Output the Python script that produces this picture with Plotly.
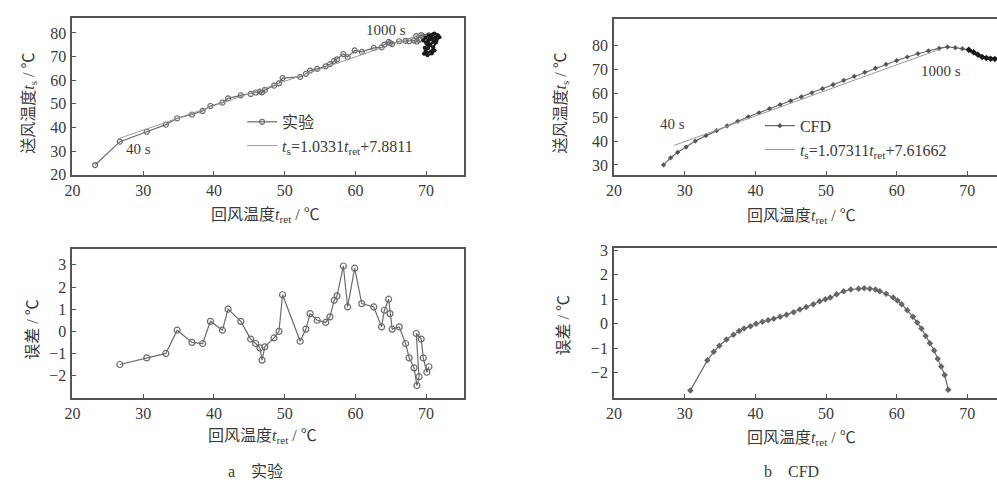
import plotly.graph_objects as go

# ---------------- data ----------------
# (a) experiment: return-air temp vs supply-air temp
exp_x = [23.2, 26.7, 30.5, 33.2, 34.8, 36.9, 38.4, 39.5, 41.2, 42.0, 43.8, 45.2, 45.9, 46.5, 46.8,
         47.2, 48.5, 49.2, 49.7, 52.2, 53.0, 53.6, 54.6, 55.8, 56.4, 57.0, 57.4, 58.3, 58.9, 59.9,
         60.9, 62.6, 63.7, 64.1, 64.7, 64.9, 65.2, 66.2, 67.1, 67.6, 68.3, 68.7, 69.0, 68.6, 69.3,
         69.6, 70.1, 70.4]
exp_y = [24.1, 34.0, 38.2, 41.2, 43.9, 45.5, 47.0, 49.1, 50.5, 52.3, 53.6, 54.2, 54.8, 55.2, 54.9,
         55.9, 57.7, 58.7, 60.9, 61.4, 62.7, 64.1, 64.8, 65.9, 66.8, 68.2, 68.8, 71.1, 69.8, 72.6,
         72.0, 73.7, 73.9, 75.1, 76.2, 75.7, 75.3, 76.5, 76.7, 76.5, 76.8, 76.4, 77.1, 78.7, 79.1,
         78.6, 78.5, 79.0]
# dense cluster after ~1000 s
blob_x = [70.4, 71.0, 71.6, 71.9, 71.5, 71.0, 70.6, 70.3, 69.9, 69.7, 70.2, 70.8, 71.2, 71.0, 70.5,
          70.0, 69.6, 69.9, 70.6, 71.3, 71.7, 71.2, 70.5, 70.2, 70.9, 71.4, 70.7, 70.1, 69.8, 70.4]
blob_y = [79.0, 79.6, 79.2, 78.2, 77.0, 76.2, 75.0, 73.6, 72.4, 71.2, 70.6, 71.3, 72.6, 74.0, 74.8,
          75.8, 76.8, 78.0, 78.4, 78.0, 78.8, 79.8, 78.2, 76.5, 77.3, 76.0, 72.2, 71.8, 73.8, 75.6]
exp_fit_x = [26.5, 69.5]
exp_fit_y = [35.26, 79.68]

exp_err_x = exp_x[1:]
exp_err = [-1.5, -1.2, -1.0, 0.05, -0.5, -0.55, 0.45, 0.05, 1.0, 0.45, -0.35, -0.55, -0.75, -1.3,
           -0.7, -0.3, 0.0, 1.65, -0.45, 0.1, 0.8, 0.5, 0.4, 0.65, 1.4, 1.6, 2.95, 1.1, 2.85,
           1.25, 1.1, 0.2, 0.95, 1.45, 0.8, 0.1, 0.2, -0.55, -1.2, -1.65, -2.45, -2.05, -0.1, -0.35,
           -1.2, -1.85, -1.6]

# (b) CFD
cfd_x = [27.0, 28.0, 29.0, 30.2, 31.5, 33.0, 34.5, 36.0, 37.5, 39.0, 40.5, 42.0, 43.5, 45.0, 46.5,
         48.0, 49.5, 51.0, 52.5, 54.0, 55.5, 57.0, 58.5, 60.0, 61.5, 63.0, 64.5, 66.0, 67.2, 68.3,
         69.3, 70.2]
cfd_y = [30.0, 33.0, 35.3, 37.5, 40.0, 42.3, 44.4, 46.4, 48.3, 50.2, 51.9, 53.6, 55.3, 56.9, 58.6,
         60.3, 62.0, 63.7, 65.5, 67.2, 68.9, 70.6, 72.2, 73.8, 75.3, 76.7, 77.9, 78.9, 79.5, 79.2,
         78.8, 78.3]
cfd_tail_x = [70.2, 70.9, 71.5, 72.1, 72.7, 73.3, 73.9]
cfd_tail_y = [78.3, 77.3, 76.2, 75.3, 74.9, 74.6, 74.5]
cfd_fit_x = [28.5, 66.0]
cfd_fit_y = [38.20, 78.44]

cfd_err_x = [30.8, 33.2, 34.1, 34.9, 35.9, 36.9, 37.7, 38.4, 39.3, 40.1, 41.0, 41.8, 42.6, 43.5,
             44.4, 45.4, 46.3, 47.2, 48.2, 49.1, 49.9, 50.6, 51.5, 52.5, 53.5, 54.6, 55.4, 56.2,
             57.0, 57.6, 58.5, 59.5, 60.1, 60.7, 61.5, 62.3, 62.9, 63.5, 64.1, 64.7, 65.3, 65.8,
             66.3, 66.8, 67.3]
cfd_err = [-2.73, -1.5, -1.15, -0.9, -0.65, -0.45, -0.3, -0.2, -0.1, 0.0, 0.08, 0.14, 0.2, 0.28,
           0.37, 0.47, 0.58, 0.68, 0.8, 0.92, 1.0, 1.07, 1.2, 1.33, 1.4, 1.43, 1.45, 1.43, 1.4,
           1.33, 1.22, 1.07, 0.95, 0.8, 0.55, 0.28, 0.05, -0.2, -0.5, -0.8, -1.1, -1.43, -1.75,
           -2.1, -2.7]

x_ticks = [20, 30, 40, 50, 60, 70]

# ---------------- style ----------------
SERIF = "Liberation Serif, Noto Sans CJK SC, serif"
TXT = "#3a3a3a"
LINE = "#6a6a6a"
FRAME = "#555555"
W, H = 997, 494

fig = go.Figure()

# panel a top
fig.add_trace(go.Scatter(x=exp_x, y=exp_y, mode="lines+markers", name="实验",
                         line=dict(color=LINE, width=1.2),
                         marker=dict(symbol="circle-open", size=5, color=LINE, line=dict(width=1.2)),
                         xaxis="x", yaxis="y", legend="legend"))
fig.add_trace(go.Scatter(x=blob_x, y=blob_y, mode="lines+markers", showlegend=False,
                         line=dict(color="#1a1a1a", width=2),
                         marker=dict(symbol="circle", size=4, color="#1a1a1a"),
                         xaxis="x", yaxis="y"))
fig.add_trace(go.Scatter(x=exp_fit_x, y=exp_fit_y, mode="lines",
                         name="<i>t</i><sub>s</sub>=1.0331<i>t</i><sub>ret</sub>+7.8811",
                         line=dict(color="#9a9a9a", width=1),
                         xaxis="x", yaxis="y", legend="legend"))
# panel a bottom
fig.add_trace(go.Scatter(x=exp_err_x, y=exp_err, mode="lines+markers", showlegend=False,
                         line=dict(color=LINE, width=1.2),
                         marker=dict(symbol="circle-open", size=6, color=LINE, line=dict(width=1.2)),
                         xaxis="x3", yaxis="y3"))
# panel b top
fig.add_trace(go.Scatter(x=cfd_x, y=cfd_y, mode="lines+markers", name="CFD",
                         line=dict(color=LINE, width=1.2),
                         marker=dict(symbol="diamond", size=4, color="#555555"),
                         xaxis="x2", yaxis="y2", legend="legend2"))
fig.add_trace(go.Scatter(x=cfd_tail_x, y=cfd_tail_y, mode="lines+markers", showlegend=False,
                         line=dict(color="#1a1a1a", width=3),
                         marker=dict(symbol="diamond", size=5, color="#1a1a1a"),
                         xaxis="x2", yaxis="y2"))
fig.add_trace(go.Scatter(x=cfd_fit_x, y=cfd_fit_y, mode="lines",
                         name="<i>t</i><sub>s</sub>=1.07311<i>t</i><sub>ret</sub>+7.61662",
                         line=dict(color="#9a9a9a", width=1),
                         xaxis="x2", yaxis="y2", legend="legend2"))
# panel b bottom
fig.add_trace(go.Scatter(x=cfd_err_x, y=cfd_err, mode="lines+markers", showlegend=False,
                         line=dict(color=LINE, width=1.2),
                         marker=dict(symbol="diamond", size=5, color="#666666"),
                         xaxis="x4", yaxis="y4"))

def xax(domain, rng, anchor, mirror=True):
    return dict(domain=domain, range=rng, anchor=anchor, tickvals=x_ticks,
                showline=True, linecolor=FRAME, linewidth=2, mirror=mirror,
                ticks="inside", ticklen=4, tickcolor=FRAME, showgrid=False, zeroline=False,
                tickfont=dict(family=SERIF, size=16, color=TXT))

def yax(domain, rng, anchor, vals, mirror=True):
    return dict(domain=domain, range=rng, anchor=anchor, tickvals=vals,
                showline=True, linecolor=FRAME, linewidth=2, mirror=mirror,
                ticks="inside", ticklen=4, tickcolor=FRAME, showgrid=False, zeroline=False,
                ticklabelstandoff=1,
                tickfont=dict(family=SERIF, size=16, color=TXT))

fig.update_layout(
    width=W, height=H, margin=dict(l=0, r=0, t=0, b=0),
    paper_bgcolor="white", plot_bgcolor="white",
    xaxis=xax([65 / W, 460 / W], [20, 75.4], "y"),
    yaxis=yax([1 - 174 / H, 1 - 12 / H], [20, 86.5], "x", [20, 30, 40, 50, 60, 70, 80]),
    xaxis2=xax([611 / W, 1.0], [20, 74.2], "y2"),
    yaxis2=yax([1 - 174 / H, 1 - 13 / H], [25.9, 91.4], "x2", [30, 40, 50, 60, 70, 80], mirror=False),
    xaxis3=xax([65 / W, 460 / W], [20, 75.4], "y3"),
    yaxis3=yax([1 - 404 / H, 1 - 251 / H], [-3.0, 3.7], "x3", [-2, -1, 0, 1, 2, 3]),
    xaxis4=xax([611 / W, 1.0], [20, 74.2], "y4"),
    yaxis4=yax([1 - 404 / H, 1 - 250 / H], [-3.03, 3.08], "x4", [-2, -1, 0, 1, 2, 3], mirror=False),
    legend=dict(x=236 / W, y=1 - 102 / H, xanchor="left", yanchor="top",
                bgcolor="rgba(0,0,0,0)", itemwidth=30, tracegroupgap=0,
                font=dict(family=SERIF, size=16, color=TXT)),
    legend2=dict(x=758 / W, y=1 - 106 / H, xanchor="left", yanchor="top",
                 bgcolor="rgba(0,0,0,0)", itemwidth=30, tracegroupgap=0,
                 font=dict(family=SERIF, size=16, color=TXT)),
    showlegend=True,
)

def note(text, x, y, size=16, angle=0, xref="paper", yref="paper"):
    fig.add_annotation(text=text, x=x, y=y, xref=xref, yref=yref, showarrow=False,
                       textangle=angle, xanchor="center", yanchor="middle",
                       font=dict(family=SERIF, size=size, color=TXT))

xt = "回风温度<i>t</i><sub>ret</sub> / ℃"
note(xt, 260 / W, 1 - 216 / H)
note(xt, 800 / W, 1 - 217 / H)
note(xt, 257 / W, 1 - 444 / H)
note(xt, 800 / W, 1 - 446 / H)
note("送风温度<i>t</i><sub>s</sub> / ℃", 22 / W, 1 - 100 / H, angle=-90)
note("送风温度<i>t</i><sub>s</sub> / ℃", 558 / W, 1 - 100 / H, angle=-90)
note("误差 / ℃", 25 / W, 1 - 334 / H, angle=-90)
note("误差 / ℃", 560 / W, 1 - 330 / H, angle=-90)
note("a　实验", 250 / W, 1 - 480 / H)
note("b　CFD", 790 / W, 1 - 480 / H)
# time annotations in data coords
note("40 s", 29.4, 30.8, size=15, xref="x", yref="y")
note("1000 s", 64.3, 81.3, size=15, xref="x", yref="y")
note("40 s", 28.3, 47.0, size=15, xref="x2", yref="y2")
note("1000 s", 66.3, 69.5, size=15, xref="x2", yref="y2")

fig.write_html("out.html")
